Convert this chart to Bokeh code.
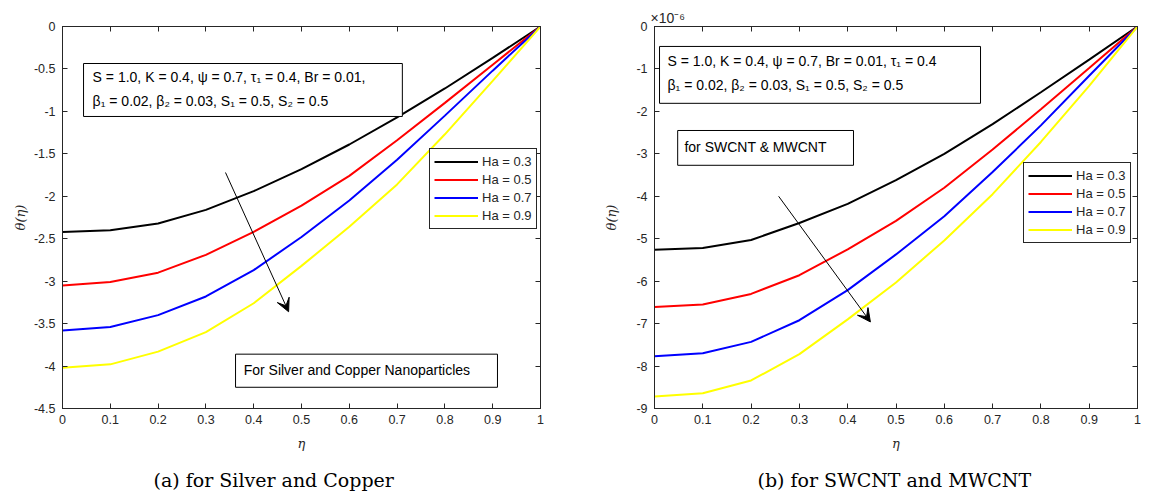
from bokeh.plotting import figure
from bokeh.layouts import row
from bokeh.models import (Label, BoxAnnotation, Arrow, VeeHead, LinearAxis, FixedTicker,
                          Legend, LegendItem, Range1d, Title)
from bokeh.embed import file_html
from bokeh.resources import INLINE

# ---------------- data ----------------
eta = [0.0, 0.1, 0.2, 0.3, 0.4, 0.5, 0.6, 0.7, 0.8, 0.9, 1.0]
ha_labels = ["Ha = 0.3", "Ha = 0.5", "Ha = 0.7", "Ha = 0.9"]
colors = ["#000000", "#ff0000", "#0000ff", "#ffff00"]

silver_ha03 = [-2.42, -2.40, -2.32, -2.16, -1.94, -1.68, -1.39, -1.07, -0.73, -0.37, 0.0]
silver_ha05 = [-3.05, -3.01, -2.90, -2.69, -2.42, -2.11, -1.76, -1.34, -0.90, -0.45, 0.0]
silver_ha07 = [-3.58, -3.54, -3.40, -3.18, -2.87, -2.48, -2.05, -1.57, -1.05, -0.52, 0.0]
silver_ha09 = [-4.02, -3.98, -3.83, -3.60, -3.26, -2.82, -2.36, -1.86, -1.27, -0.64, 0.0]

swcnt_ha03 = [-5.26, -5.22, -5.03, -4.63, -4.18, -3.62, -3.00, -2.30, -1.55, -0.78, 0.0]
swcnt_ha05 = [-6.61, -6.55, -6.30, -5.86, -5.25, -4.58, -3.80, -2.90, -1.95, -0.98, 0.0]
swcnt_ha07 = [-7.77, -7.70, -7.43, -6.92, -6.21, -5.37, -4.47, -3.43, -2.33, -1.16, 0.0]
swcnt_ha09 = [-8.72, -8.64, -8.34, -7.72, -6.90, -6.03, -5.04, -3.95, -2.72, -1.40, 0.0]

x_ticks = [0.0, 0.1, 0.2, 0.3, 0.4, 0.5, 0.6, 0.7, 0.8, 0.9, 1.0]
x_tick_labels = ["0", "0.1", "0.2", "0.3", "0.4", "0.5", "0.6", "0.7", "0.8", "0.9", "1"]
y1_ticks = [0.0, -0.5, -1.0, -1.5, -2.0, -2.5, -3.0, -3.5, -4.0, -4.5]
y1_tick_labels = ["0", "-0.5", "-1", "-1.5", "-2", "-2.5", "-3", "-3.5", "-4", "-4.5"]
y2_ticks = [0, -1, -2, -3, -4, -5, -6, -7, -8, -9]
y2_tick_labels = ["0", "-1", "-2", "-3", "-4", "-5", "-6", "-7", "-8", "-9"]

param_text_a = ["S = 1.0, K = 0.4, ψ = 0.7, τ₁ = 0.4, Br = 0.01,",
                "β₁ = 0.02, β₂ = 0.03, S₁ = 0.5, S₂ = 0.5"]
param_text_b = ["S = 1.0, K = 0.4, ψ = 0.7, Br = 0.01, τ₁ = 0.4",
                "β₁ = 0.02, β₂ = 0.03, S₁ = 0.5, S₂ = 0.5"]
note_a = "For Silver and Copper Nanoparticles"
note_b = "for SWCNT & MWCNT"
caption_a = "(a) for Silver and Copper"
caption_b = "(b) for SWCNT and MWCNT"
exponent_b = "×10⁻⁶"

AXC = "#262626"
SANS = "Liberation Sans"
SERIF = "DejaVu Serif"


def style_axes(p, xt, xl, yt, yl, ylab_standoff):
    bottom = p.below[0]
    left = p.left[0]
    bottom.ticker = FixedTicker(ticks=xt)
    bottom.major_label_overrides = {t: l for t, l in zip(xt, xl)}
    left.ticker = FixedTicker(ticks=yt)
    left.major_label_overrides = {t: l for t, l in zip(yt, yl)}
    # box axes on top/right (ticks only)
    top = LinearAxis(ticker=FixedTicker(ticks=xt),
                     major_label_overrides={t: "" for t in xt},
                     major_label_text_font_size="1px", major_label_standoff=0)
    rgt = LinearAxis(ticker=FixedTicker(ticks=yt),
                     major_label_overrides={t: "" for t in yt},
                     major_label_text_font_size="1px", major_label_standoff=0)
    p.add_layout(top, "above")
    p.add_layout(rgt, "right")
    for ax in (bottom, left, top, rgt):
        ax.axis_line_color = AXC
        ax.major_tick_line_color = AXC
        ax.minor_tick_line_color = None
        ax.major_tick_in = 5
        ax.major_tick_out = 0
        ax.major_label_text_color = AXC
        ax.major_label_text_font = SANS
        ax.major_label_text_font_style = "normal"
    bottom.major_label_text_font_size = "12.5px"
    left.major_label_text_font_size = "12.5px"
    bottom.major_label_standoff = 6
    left.major_label_standoff = 7
    bottom.axis_label = "η"
    left.axis_label = "θ(η)"
    for ax in (bottom, left):
        ax.axis_label_text_font = SERIF
        ax.axis_label_text_font_style = "italic"
        ax.axis_label_text_font_size = "13px"
        ax.axis_label_text_color = AXC
    bottom.axis_label_standoff = 9
    left.axis_label_standoff = ylab_standoff
    p.grid.visible = False
    p.outline_line_color = AXC


def make_panel(series, yr, frame_w, bl, br, yt, yl, ylab_standoff, legend_loc,
               caption, cap_offset):
    p = figure(frame_width=frame_w, frame_height=382, min_border_left=bl,
               min_border_right=br, min_border_top=26, min_border_bottom=60,
               x_range=Range1d(0, 1), y_range=Range1d(*yr),
               output_backend="svg", toolbar_location=None)
    p.background_fill_color = "white"
    p.border_fill_color = "white"
    items = []
    for s, c, lab in zip(series, colors, ha_labels):
        r = p.line(eta, s, line_color=c, line_width=2)
        items.append(LegendItem(label=lab, renderers=[r]))
    leg = Legend(items=items, location=legend_loc, label_text_font=SANS,
                 label_text_font_size="13px", label_text_color=AXC,
                 glyph_width=44, glyph_height=17, label_height=17, label_standoff=4,
                 padding=4, spacing=1, margin=0, border_line_color=AXC,
                 border_line_width=1, border_line_alpha=1, background_fill_alpha=1)
    p.add_layout(leg)
    style_axes(p, x_ticks, x_tick_labels, yt, yl, ylab_standoff)
    p.add_layout(Title(text=caption, align="left", offset=cap_offset, standoff=26,
                       text_font=SERIF, text_font_size="19px", text_font_style="normal",
                       text_color="black"), "below")
    return p


def box(left, right, top, bottom):
    return BoxAnnotation(left=left, right=right, top=top, bottom=bottom,
                         fill_color="white", fill_alpha=1, line_color="black",
                         line_alpha=1, line_width=1)


# ---------------- panel (a) ----------------
p1 = make_panel([silver_ha03, silver_ha05, silver_ha07, silver_ha09], (-4.5, 0), 478, 62, 44,
                y1_ticks, y1_tick_labels, 3, (367, 179), caption_a, 91)
p1.add_layout(box(0.044, 0.711, -0.436, -1.06))
p1.add_layout(Label(x=0.063, y=-0.60, text=param_text_a[0], text_font=SANS,
                    text_font_size="14px", text_baseline="middle", text_color="black"))
p1.add_layout(Label(x=0.063, y=-0.88, text=param_text_a[1], text_font=SANS,
                    text_font_size="14px", text_baseline="middle", text_color="black"))
p1.add_layout(box(0.362, 0.910, -3.86, -4.25))
p1.add_layout(Label(x=0.379, y=-4.05, text=note_a, text_font=SANS, text_font_size="14px",
                    text_baseline="middle", text_color="black"))
p1.add_layout(Arrow(x_start=0.341, y_start=-1.72, x_end=0.473, y_end=-3.36, line_width=1,
                    end=VeeHead(size=13, fill_color="black", line_color="black")))

# ---------------- panel (b) ----------------
p2 = make_panel([swcnt_ha03, swcnt_ha05, swcnt_ha07, swcnt_ha09], (-9, 0), 483, 70, 5,
                y2_ticks, y2_tick_labels, 14, (369, 165), caption_b, 103)
p2.add_layout(Title(text=exponent_b, align="left", offset=-4, standoff=1,
                    text_font=SANS, text_font_size="14px", text_font_style="normal",
                    text_color=AXC), "above")
p2.add_layout(box(0.0104, 0.675, -0.47, -1.81))
p2.add_layout(Label(x=0.027, y=-0.82, text=param_text_b[0], text_font=SANS,
                    text_font_size="14px", text_baseline="middle", text_color="black"))
p2.add_layout(Label(x=0.027, y=-1.39, text=param_text_b[1], text_font=SANS,
                    text_font_size="14px", text_baseline="middle", text_color="black"))
p2.add_layout(box(0.048, 0.412, -2.45, -3.27))
p2.add_layout(Label(x=0.062, y=-2.85, text=note_b, text_font=SANS, text_font_size="14px",
                    text_baseline="middle", text_color="black"))
p2.add_layout(Arrow(x_start=0.257, y_start=-4.0, x_end=0.447, y_end=-6.96, line_width=1,
                    end=VeeHead(size=13, fill_color="black", line_color="black")))

layout = row(p1, p2)
open("out.html", "w").write(file_html(layout, INLINE))
